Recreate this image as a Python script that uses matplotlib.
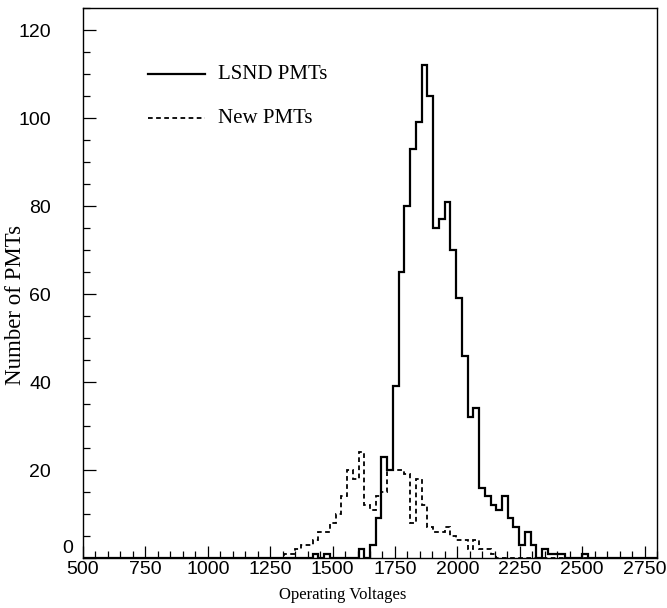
import numpy as np
import matplotlib
matplotlib.use("Agg")
import matplotlib.pyplot as plt
from matplotlib.ticker import MultipleLocator, FuncFormatter
from matplotlib.transforms import blended_transform_factory

# histogram binning: 100 bins between 500 and 2800 V
x_min, x_max, n_bins = 500, 2800, 100

# LSND PMTs, counts per bin starting at bin 40
lsnd_first_bin = 40
lsnd_counts = [1, 0, 1, 0, 0, 0, 0, 0, 2, 0,
               3, 9, 23, 20, 39, 65, 80, 93, 99, 112,
               105, 75, 77, 81, 70, 59, 46, 32, 34, 16,
               14, 12, 11, 14, 9, 7, 3, 6, 3, 0,
               2, 1, 1, 1, 0, 0, 0, 1]

# New PMTs, counts per bin starting at bin 35
new_first_bin = 35
new_counts = [1, 1, 2, 3, 3, 4, 6, 6, 8, 10,
              14, 20, 18, 24, 12, 11, 14, 15, 20, 20,
              20, 19, 8, 18, 12, 7, 6, 6, 7, 5,
              4, 4, 2, 4, 2, 2, 1]

edges = np.linspace(x_min, x_max, n_bins + 1)

def full_hist(first, counts):
    h = np.zeros(n_bins)
    h[first:first + len(counts)] = counts
    return h

lsnd = full_hist(lsnd_first_bin, lsnd_counts)
new = full_hist(new_first_bin, new_counts)

plt.rcParams['font.family'] = ['Liberation Sans', 'DejaVu Sans']
serif = ['Liberation Serif', 'DejaVu Serif']

fig = plt.figure(figsize=(6.67, 6.08), dpi=100)
ax = fig.add_axes([0.1244, 0.0822, 0.8606, 0.9046])

dash = (0, (2.6, 1.9))
ax.stairs(new, edges, color='black', linewidth=1.3, linestyle=dash, baseline=None)
ax.stairs(lsnd, edges, color='black', linewidth=1.6)

ax.set_xlim(x_min, x_max)
ax.set_ylim(0, 125)

ax.xaxis.set_major_locator(MultipleLocator(250))
ax.xaxis.set_minor_locator(MultipleLocator(50))
ax.yaxis.set_major_locator(MultipleLocator(20))
ax.yaxis.set_minor_locator(MultipleLocator(5))
# the zero label sits apart in the corner, drawn below
ax.yaxis.set_major_formatter(FuncFormatter(lambda v, p: '' if v == 0 else '%d' % v))
ax.tick_params(which='both', direction='in', labelsize=14, width=0.9)
ax.tick_params(which='major', length=9)
ax.tick_params(which='minor', length=5)
ax.tick_params(axis='y', pad=23)
ax.tick_params(axis='x', pad=2.5)
for s in ax.spines.values():
    s.set_linewidth(1.0)

trans = blended_transform_factory(ax.transAxes, ax.transData)
ax.text(-0.026, 2.2, '0', fontsize=14, ha='center', va='center', transform=trans)

ax.set_xlabel('Operating Voltages', family=serif, fontsize=12)
ax.xaxis.set_label_coords(0.453, -0.053)
ax.set_ylabel('Number of PMTs', family=serif, fontsize=16.5)
ax.yaxis.label.set_va('center')
ax.yaxis.set_label_coords(-0.118, 0.46)

# legend drawn by hand like the original
ax.plot([0.113, 0.213], [110, 110], color='black', linewidth=1.6, transform=trans)
ax.plot([0.113, 0.213], [100, 100], color='black', linewidth=1.3, linestyle=dash, transform=trans)
ax.text(0.236, 110, 'LSND PMTs', family=serif, fontsize=15, va='center', transform=trans)
ax.text(0.236, 100, 'New PMTs', family=serif, fontsize=15, va='center', transform=trans)

fig.savefig('out.png', dpi=100)
